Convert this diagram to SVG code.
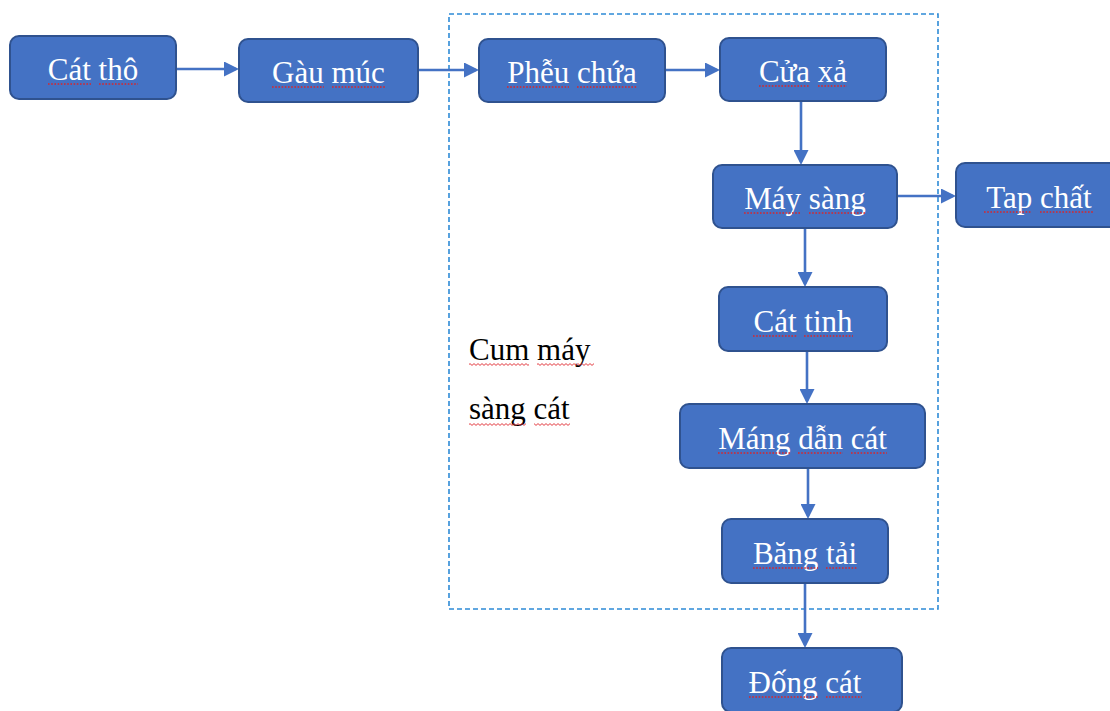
<svg xmlns="http://www.w3.org/2000/svg" width="1110" height="711" viewBox="0 0 1110 711">
<style>
.box{fill:#4472C4;stroke:#2F528F;stroke-width:2}
.lbl{font-family:"Liberation Serif","Times New Roman",serif;font-size:31px;fill:#FFFFFF;text-anchor:middle}
.note{font-family:"Liberation Serif","Times New Roman",serif;font-size:31px;fill:#000000}
.sp{stroke:#D9262B;stroke-width:1.3;stroke-dasharray:1.6 1.6;fill:none}
.conn{stroke:#4472C4;stroke-width:2.6;fill:none;marker-end:url(#arr)}
.group{fill:none;stroke:#2E8BD6;stroke-width:1.6;stroke-dasharray:5 3}
</style>
<defs>
<marker id="arr" markerUnits="userSpaceOnUse" markerWidth="15" markerHeight="15" refX="12" refY="7.5" orient="auto">
<path d="M0 0 L15 7.5 L0 15 Z" fill="#4472C4"/>
</marker>
<pattern id="wave" patternUnits="userSpaceOnUse" width="4" height="3">
<path d="M0 2.4 L2 0.6 L4 2.4" fill="none" stroke="#E0282E" stroke-width="0.9"/>
</pattern>
</defs>
<rect width="1110" height="711" fill="#FFFFFF"/>

<g id="cum-may-sang-cat">
<rect class="group" x="449" y="14" width="489" height="595"/>
<text class="note" x="469" y="360">Cum máy</text>
<text class="note" x="469" y="419">sàng cát</text>
<rect x="469" y="363" width="60" height="3" fill="url(#wave)"/>
<rect x="537" y="363" width="57" height="3" fill="url(#wave)"/>
<rect x="469" y="423" width="57" height="3" fill="url(#wave)"/>
<rect x="534" y="423" width="36" height="3" fill="url(#wave)"/>
</g>

<g id="connectors">
<path class="conn" d="M176 69 H236"/>
<path class="conn" d="M418 70 H476"/>
<path class="conn" d="M665 70 H717"/>
<path class="conn" d="M801 101 V162"/>
<path class="conn" d="M897 196 H953"/>
<path class="conn" d="M805 228 V284"/>
<path class="conn" d="M807 351 V401"/>
<path class="conn" d="M808 468 V516"/>
<path class="conn" d="M805 583 V645"/>
</g>

<g id="cat-tho">
<rect class="box" x="10" y="36" width="166" height="63" rx="9"/>
<text class="lbl" x="93" y="80">Cát thô</text>
<path class="sp" d="M48 84 H91 M99 84 H138"/>
</g>

<g id="gau-muc">
<rect class="box" x="239" y="39" width="179" height="63" rx="9"/>
<text class="lbl" x="328.5" y="83">Gàu múc</text>
<path class="sp" d="M272 87 H324 M332 87 H385"/>
</g>

<g id="pheu-chua">
<rect class="box" x="479" y="39" width="186" height="63" rx="9"/>
<text class="lbl" x="572" y="83">Phễu chứa</text>
<path class="sp" d="M507 87 H569 M577 87 H637"/>
</g>

<g id="cua-xa">
<rect class="box" x="720" y="38" width="166" height="63" rx="9"/>
<text class="lbl" x="803" y="82">Cửa xả</text>
<path class="sp" d="M759 86 H810 M818 86 H847"/>
</g>

<g id="may-sang">
<rect class="box" x="713" y="165" width="184" height="63" rx="9"/>
<text class="lbl" x="805" y="209">Máy sàng</text>
<path class="sp" d="M744 213 H801 M809 213 H866"/>
</g>

<g id="tap-chat">
<rect class="box" x="956" y="163" width="166" height="64" rx="9"/>
<text class="lbl" x="1039" y="208">Tap chất</text>
<path class="sp" d="M984 212 H1032 M1040 212 H1094"/>
</g>

<g id="cat-tinh">
<rect class="box" x="719" y="287" width="168" height="64" rx="9"/>
<text class="lbl" x="803" y="332">Cát tinh</text>
<path class="sp" d="M753 336 H797 M804 336 H853"/>
</g>

<g id="mang-dan-cat">
<rect class="box" x="680" y="404" width="245" height="64" rx="9"/>
<text class="lbl" x="802.5" y="449">Máng dẫn cát</text>
<path class="sp" d="M718 453 H790 M798 453 H843 M851 453 H887"/>
</g>

<g id="bang-tai">
<rect class="box" x="722" y="519" width="166" height="64" rx="9"/>
<text class="lbl" x="805" y="564">Băng tải</text>
<path class="sp" d="M753 568 H818 M826 568 H857"/>
</g>

<g id="dong-cat">
<rect class="box" x="722" y="648" width="180" height="64" rx="9"/>
<text class="lbl" x="805" y="693">Đống cát</text>
<path class="sp" d="M749 697 H818 M826 697 H862"/>
</g>
</svg>
